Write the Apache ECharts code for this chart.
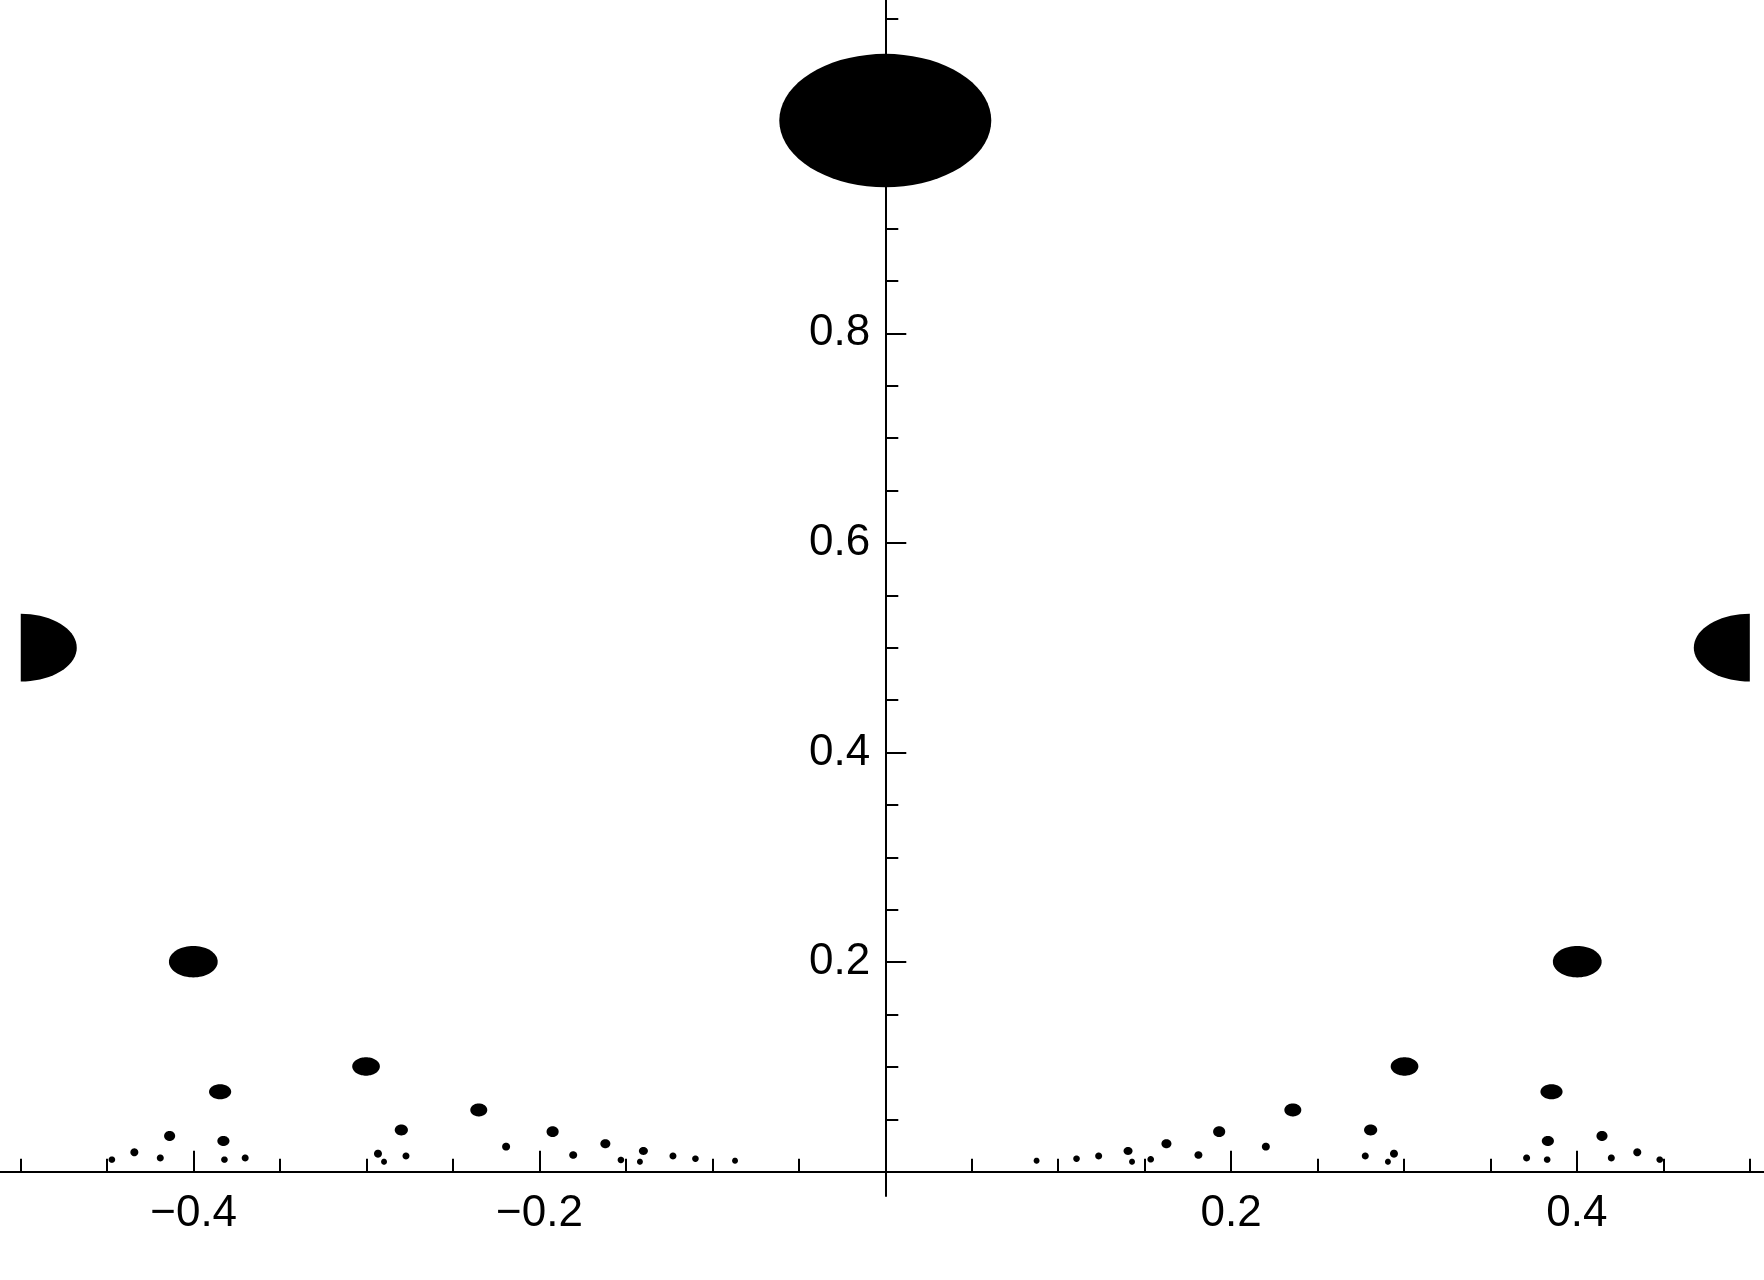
<!DOCTYPE html>
<html><head><meta charset="utf-8">
<script src="https://cdn.jsdelivr.net/npm/echarts@6/dist/echarts.min.js"></script>
<style>html,body{margin:0;padding:0;background:#fff}#c{width:1764px;height:1280px}</style>
</head><body><div id="c"></div>
<script>
// Region blobs: centre x, centre y, half-width (data x units), half-height (data y units)
const dotX = [
  -0.5, -0.4002, -0.3003, -0.3847, -0.4139, -0.4343, -0.4473, -0.4193, -0.3828, -0.3822, -0.3702,
  -0.2799, -0.2934, -0.2899, -0.2772, -0.2351, -0.2193, -0.1924, -0.1805, -0.1619, -0.1529,
  -0.1399, -0.1419, -0.1228, -0.1098, -0.0869,
  0.0,
  0.0875, 0.1106, 0.1234, 0.1404, 0.1427, 0.1535, 0.1626, 0.1811, 0.1931, 0.2201, 0.2357,
  0.2776, 0.2807, 0.2907, 0.2942, 0.3003, 0.3709, 0.3828, 0.3832, 0.3853, 0.4002, 0.4145,
  0.4199, 0.4349, 0.4479, 0.5
];
const dotY = [
  0.5, 0.2004, 0.1004, 0.0763, 0.0341, 0.0185, 0.0115, 0.0131, 0.0293, 0.0115, 0.0131,
  0.0398, 0.0172, 0.0095, 0.0150, 0.0589, 0.0239, 0.0382, 0.0159, 0.0267, 0.0112,
  0.0198, 0.0095, 0.0150, 0.0124, 0.0105,
  1.003,
  0.0105, 0.0124, 0.0150, 0.0198, 0.0095, 0.0118, 0.0267, 0.0159, 0.0382, 0.0239, 0.0589,
  0.0150, 0.0398, 0.0095, 0.0172, 0.1004, 0.0131, 0.0115, 0.0293, 0.0763, 0.2004, 0.0341,
  0.0131, 0.0185, 0.0115, 0.5
];
const dotRX = [
  0.0324, 0.0141, 0.0080, 0.0064, 0.0032, 0.0023, 0.0019, 0.0020, 0.0035, 0.0019, 0.0020,
  0.0038, 0.0023, 0.0017, 0.0020, 0.0049, 0.0023, 0.0035, 0.0023, 0.0029, 0.0019,
  0.0026, 0.0017, 0.0020, 0.0019, 0.0017,
  0.0613,
  0.0017, 0.0019, 0.0020, 0.0026, 0.0017, 0.0019, 0.0029, 0.0023, 0.0035, 0.0023, 0.0049,
  0.0020, 0.0038, 0.0017, 0.0023, 0.0080, 0.0020, 0.0019, 0.0035, 0.0064, 0.0141, 0.0032,
  0.0020, 0.0023, 0.0019, 0.0324
];
const dotRY = [
  0.0323, 0.0150, 0.0088, 0.0072, 0.0048, 0.0038, 0.0031, 0.0033, 0.0048, 0.0031, 0.0033,
  0.0052, 0.0038, 0.0029, 0.0033, 0.0062, 0.0038, 0.0052, 0.0036, 0.0043, 0.0031,
  0.0038, 0.0029, 0.0033, 0.0031, 0.0029,
  0.0636,
  0.0029, 0.0031, 0.0033, 0.0038, 0.0029, 0.0031, 0.0043, 0.0036, 0.0052, 0.0038, 0.0062,
  0.0033, 0.0052, 0.0029, 0.0038, 0.0088, 0.0033, 0.0031, 0.0048, 0.0072, 0.0150, 0.0048,
  0.0033, 0.0038, 0.0031, 0.0323
];
const regionX = [-0.5, 0.5];

const xMajorTicks = [-0.4, -0.2, 0.2, 0.4];
const xMinorTicks = [-0.5, -0.45, -0.35, -0.3, -0.25, -0.15, -0.1, -0.05, 0.05, 0.1, 0.15, 0.25, 0.3, 0.35, 0.45, 0.5];
const yMajorTicks = [0.2, 0.4, 0.6, 0.8, 1.0];
const yLabelTicks = [0.2, 0.4, 0.6, 0.8];
const yMinorTicks = [0.05, 0.1, 0.15, 0.25, 0.3, 0.35, 0.45, 0.5, 0.55, 0.65, 0.7, 0.75, 0.85, 0.9, 0.95, 1.05, 1.1];

const xRange = [-0.5120, 0.5082];
const yRange = [-0.0232, 1.1180];

// layout
const W = 1764, H = 1280, gridBottom = 84;
const gridH = H - gridBottom;
// pixel offsets that move the axes onto the zero lines (axes cross at the origin)
const yAxisOffset = -((0 - xRange[0]) / (xRange[1] - xRange[0])) * W;
const xAxisOffset = -((0 - yRange[0]) / (yRange[1] - yRange[0])) * gridH;

const data = dotX.map((x, i) => [x, dotY[i], dotRX[i], dotRY[i]]);
const fmt = v => (+v).toFixed(1).replace('-', '\u2212');
const axisCol = '#000';
const font = 'Liberation Sans, Arial, sans-serif';

const chart = echarts.init(document.getElementById('c'), null, {renderer: 'canvas'});
chart.setOption({
  backgroundColor: '#fff',
  animation: false,
  grid: {left: 0, right: 0, top: 0, bottom: gridBottom, containLabel: false, outerBoundsMode: 'none'},
  xAxis: [
    {
      type: 'value', min: xRange[0], max: xRange[1], position: 'bottom', offset: xAxisOffset,
      axisLine: {show: true, onZero: false, lineStyle: {color: axisCol, width: 2}},
      axisTick: {show: true, inside: true, length: 21, customValues: xMajorTicks, lineStyle: {color: axisCol, width: 2}},
      axisLabel: {show: true, customValues: xMajorTicks, formatter: fmt, margin: 20, fontSize: 44, color: '#000', fontFamily: font},
      splitLine: {show: false}
    },
    {
      type: 'value', min: xRange[0], max: xRange[1], position: 'bottom', offset: xAxisOffset,
      axisLine: {show: false, onZero: false},
      axisTick: {show: true, inside: true, length: 13, customValues: xMinorTicks, lineStyle: {color: axisCol, width: 2}},
      axisLabel: {show: false},
      splitLine: {show: false}
    }
  ],
  yAxis: [
    {
      type: 'value', min: yRange[0], max: yRange[1], position: 'left', offset: yAxisOffset,
      axisLine: {show: true, onZero: false, lineStyle: {color: axisCol, width: 2}},
      axisTick: {show: true, inside: true, length: 21, customValues: yMajorTicks, lineStyle: {color: axisCol, width: 2}},
      axisLabel: {show: true, customValues: yLabelTicks, formatter: fmt, margin: 15, fontSize: 44, color: '#000', fontFamily: font},
      splitLine: {show: false}
    },
    {
      type: 'value', min: yRange[0], max: yRange[1], position: 'left', offset: yAxisOffset,
      axisLine: {show: false, onZero: false},
      axisTick: {show: true, inside: true, length: 13, customValues: yMinorTicks, lineStyle: {color: axisCol, width: 2}},
      axisLabel: {show: false},
      splitLine: {show: false}
    }
  ],
  series: [{
    type: 'custom',
    xAxisIndex: 0, yAxisIndex: 0,
    clip: true,
    data: data,
    z: 5,
    renderItem: function (params, api) {
      const cx = api.value(0), cy = api.value(1), rx = api.value(2), ry = api.value(3);
      const pts = [];
      const n = 72;
      for (let i = 0; i < n; i++) {
        const t = 2 * Math.PI * i / n;
        let x = cx + rx * Math.cos(t);
        x = Math.max(regionX[0], Math.min(regionX[1], x));
        pts.push(api.coord([x, cy + ry * Math.sin(t)]));
      }
      return {type: 'polygon', shape: {points: pts}, style: {fill: '#000', stroke: null}};
    }
  }]
});
</script>
</body></html>
